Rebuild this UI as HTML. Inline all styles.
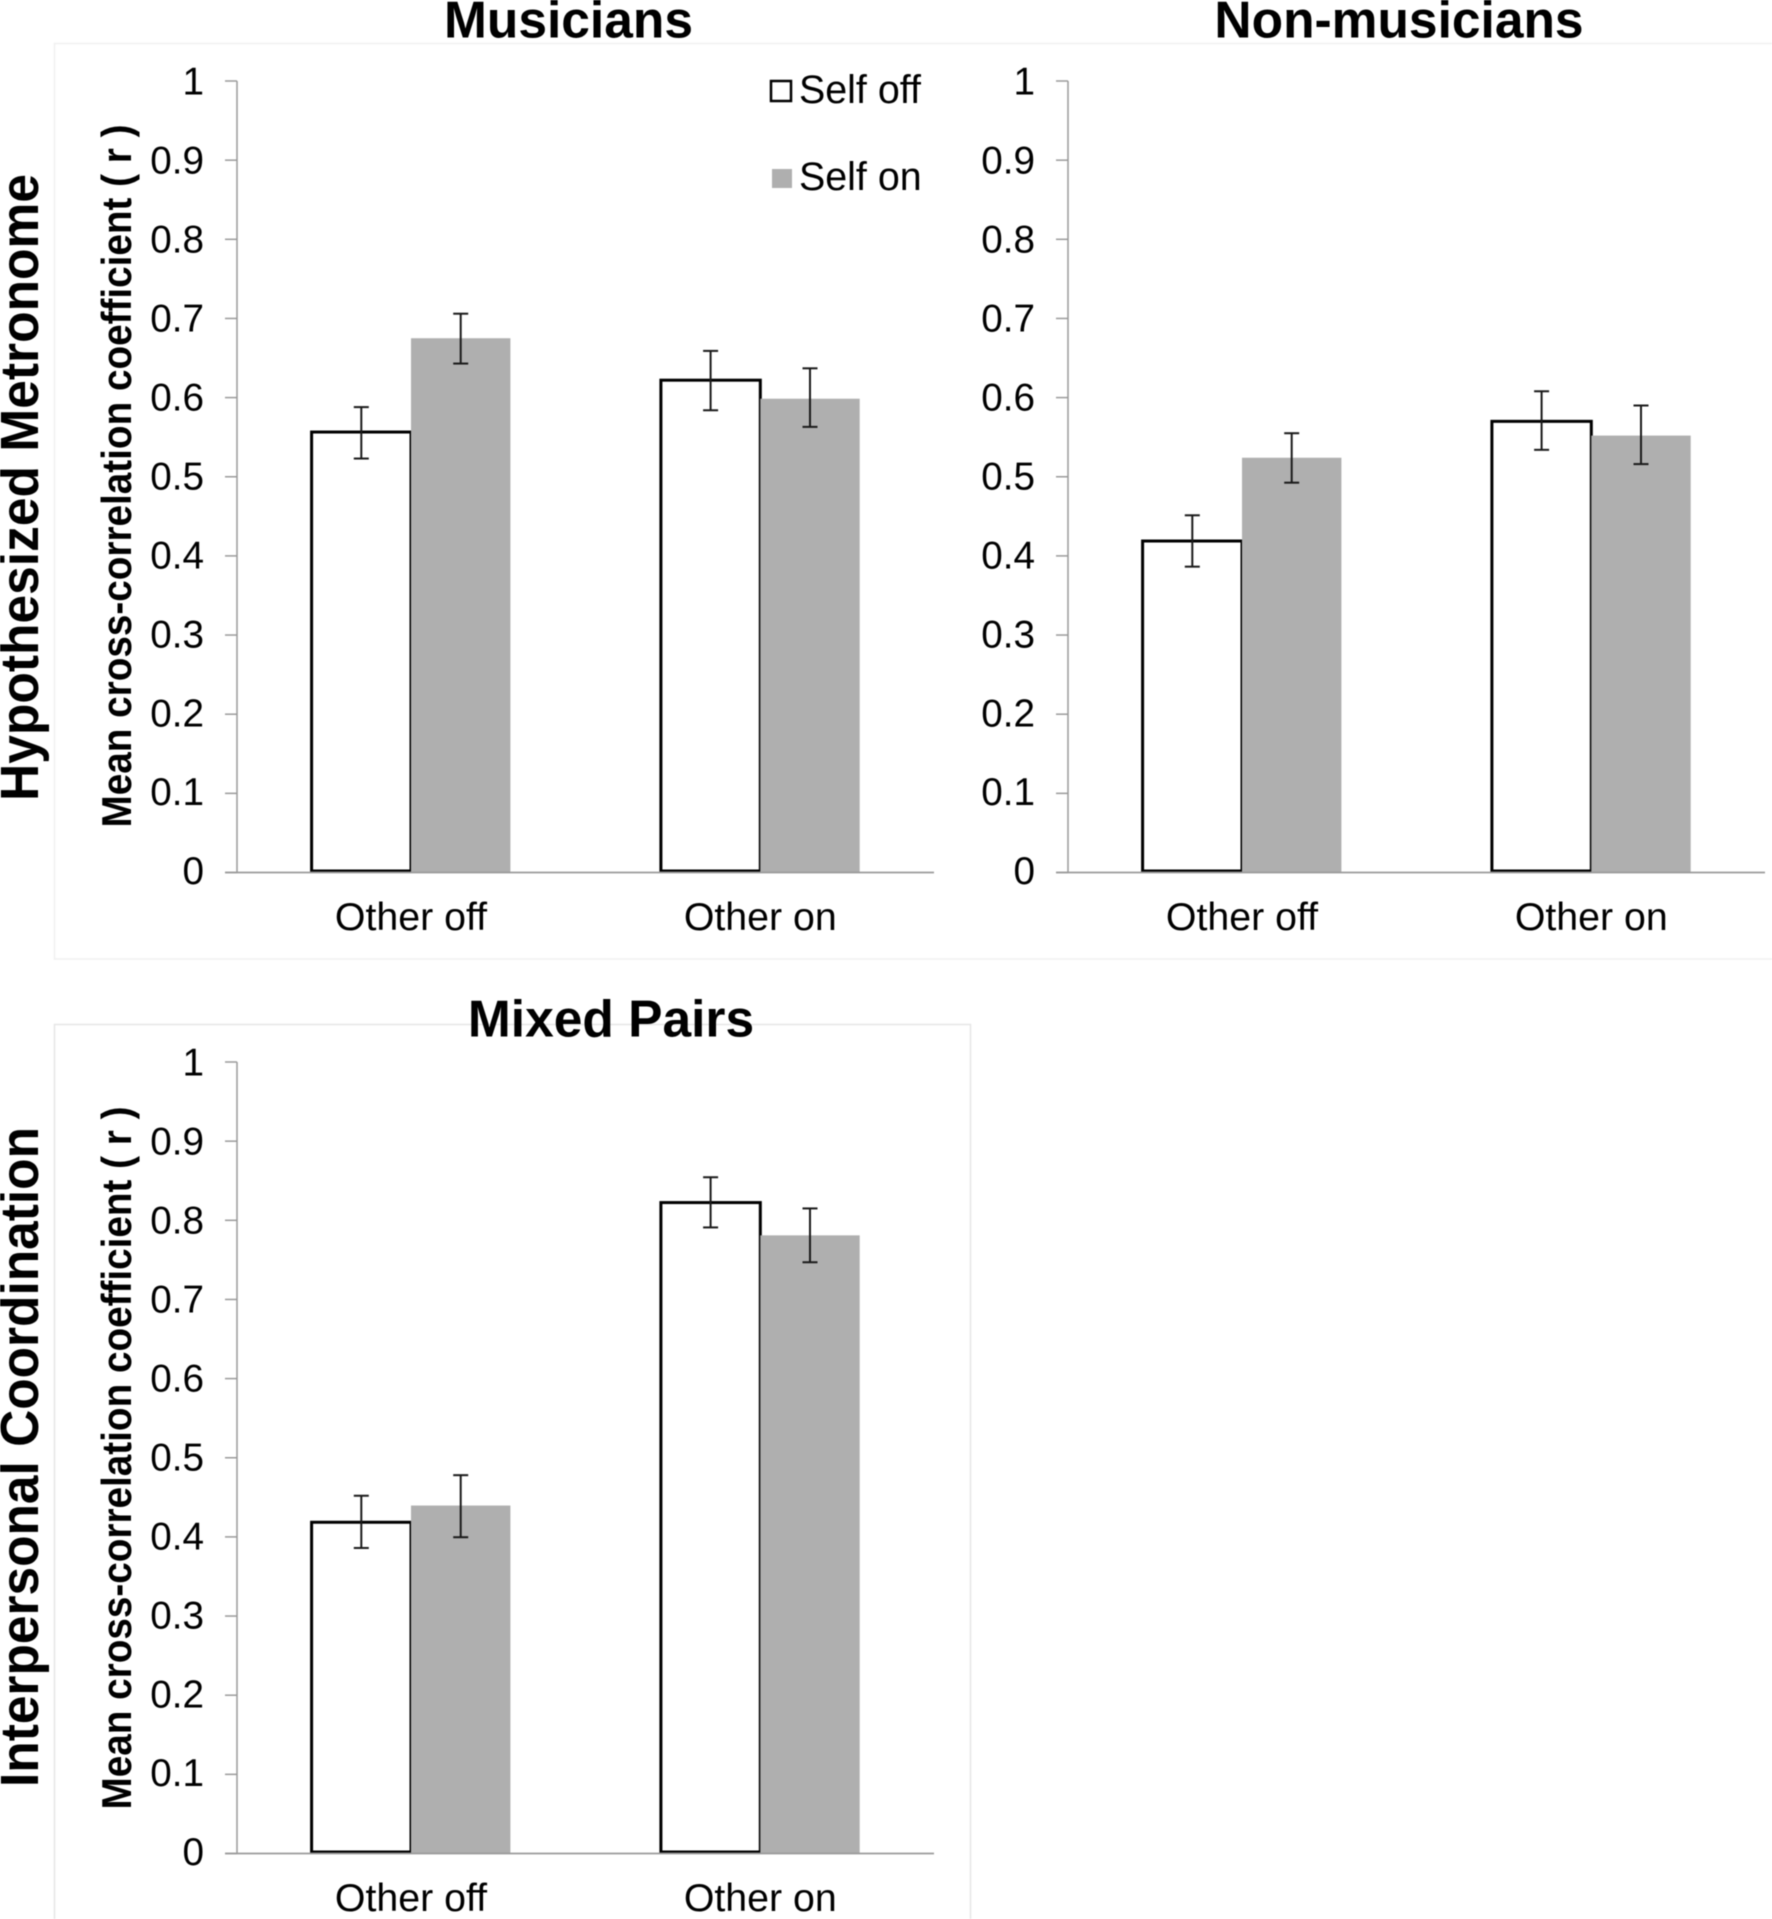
<!DOCTYPE html>
<html lang="en">
<head>
<meta charset="utf-8">
<title>Mean cross-correlation coefficient by group</title>
<style>
  html, body { margin: 0; padding: 0; background: #fff; }
  body { width: 1772px; height: 1919px; overflow: hidden; }
  svg { display: block; filter: blur(0.6px); }
  text { font-family: "Liberation Sans", Arial, sans-serif; fill: #000; }
  .title { font-size: 51.5px; font-weight: bold; text-anchor: middle; }
  .outer { font-size: 52px; font-weight: bold; }
  .ytitle { font-size: 38.6px; font-weight: bold; }
  .tick { font-size: 38.7px; text-anchor: end; }
  .cat { font-size: 39.3px; text-anchor: middle; }
  .legend { font-size: 39.4px; }
</style>
</head>
<body>
<svg id="figure" xmlns="http://www.w3.org/2000/svg" width="1772" height="1919" viewBox="0 0 1772 1919">
  <rect x="0" y="0" width="1772" height="1919" fill="#fff"/>
  <path d="M1772 43.5H54.5V959H1772" fill="none" stroke="#f0f0f0" stroke-width="1.5"/>
  <path d="M54.5 1919V1024.5H970.5V1919" fill="none" stroke="#e6e6e6" stroke-width="1.5"/>

  <text class="title" x="568.5" y="37.7">Musicians</text>
  <text class="title" x="1399" y="37.7">Non-musicians</text>
  <text class="title" x="611" y="1036.7">Mixed Pairs</text>

  <text class="outer" transform="translate(37.8,801) rotate(-90) scale(1,1.03)" textLength="627" lengthAdjust="spacingAndGlyphs">Hypothesized Metronome</text>
  <text class="outer" transform="translate(37.8,1787) rotate(-90) scale(1,1.03)" textLength="660" lengthAdjust="spacingAndGlyphs">Interpersonal Coordination</text>

  <text class="ytitle" transform="translate(131.2,827.5) rotate(-90) scale(1,1.07)" textLength="703" lengthAdjust="spacingAndGlyphs">Mean cross-correlation coefficient ( r )</text>
  <text class="ytitle" transform="translate(131.2,1809.5) rotate(-90) scale(1,1.07)" textLength="703" lengthAdjust="spacingAndGlyphs">Mean cross-correlation coefficient ( r )</text>

  <g id="panels"></g>

  <g>
    <rect x="771" y="81" width="20" height="20" fill="#fff" stroke="#000" stroke-width="2.5"/>
    <text class="legend" x="799" y="103">Self off</text>
    <rect x="772" y="169" width="20" height="19" fill="#afafaf"/>
    <text class="legend" x="799" y="190">Self on</text>
  </g>
</svg>

<script>
const categories = ["Other off", "Other on"];
const tickLabels = ["0", "0.1", "0.2", "0.3", "0.4", "0.5", "0.6", "0.7", "0.8", "0.9", "1"];
const tickValues = [0, 0.1, 0.2, 0.3, 0.4, 0.5, 0.6, 0.7, 0.8, 0.9, 1];

const musiciansSelfOff = [0.5565, 0.622];
const musiciansSelfOn = [0.675, 0.5986];
const musiciansSelfOffHigh = [0.588, 0.659];
const musiciansSelfOffLow = [0.523, 0.584];
const musiciansSelfOnHigh = [0.706, 0.637];
const musiciansSelfOnLow = [0.643, 0.563];

const nonMusiciansSelfOff = [0.4188, 0.570];
const nonMusiciansSelfOn = [0.524, 0.552];
const nonMusiciansSelfOffHigh = [0.4513, 0.608];
const nonMusiciansSelfOffLow = [0.3864, 0.534];
const nonMusiciansSelfOnHigh = [0.555, 0.590];
const nonMusiciansSelfOnLow = [0.4925, 0.516];

const mixedSelfOff = [0.4185, 0.8224];
const mixedSelfOn = [0.4396, 0.781];
const mixedSelfOffHigh = [0.452, 0.8544];
const mixedSelfOffLow = [0.386, 0.791];
const mixedSelfOnHigh = [0.478, 0.815];
const mixedSelfOnLow = [0.3996, 0.747];

const SVG_NS = "http://www.w3.org/2000/svg";
const root = document.getElementById("panels");

function make(parent, tag, attrs, content) {
  const el = document.createElementNS(SVG_NS, tag);
  for (const key in attrs) el.setAttribute(key, attrs[key]);
  if (content !== undefined) el.textContent = content;
  parent.appendChild(el);
  return el;
}

function drawPanel(cfg) {
  const plotLeft = cfg.left;
  const plotRight = cfg.left + 697;
  const yScale = v => cfg.zeroY - v * 791.5;
  const band = 349.3;
  const barWidth = 99.4;
  const center = i => plotLeft + band * (i + 0.5) - 0.65;

  const group = make(root, "g", {});
  
  

  categories.forEach((cat, i) => {
    const x = center(i) - barWidth;
    const y = yScale(cfg.off[i]);
    const bar = make(group, "rect", {
      x: x, y: y, width: barWidth, height: yScale(0) - 1.5 - y,
      fill: "#fff", stroke: "#000", "stroke-width": 3
    });
    
    
  });

  categories.forEach((cat, i) => {
    const x = center(i);
    const y = yScale(cfg.on[i]);
    const bar = make(group, "rect", {
      x: x, y: y, width: barWidth, height: yScale(0) - y, fill: "#afafaf"
    });
    
    
  });

  const axisColor = "#9a9a9a";
  const yAxis = make(group, "line", {
    x1: plotLeft, x2: plotLeft, y1: yScale(1), y2: yScale(0), stroke: axisColor, "stroke-width": 1.5
  });
  
  

  const xAxis = make(group, "line", {
    x1: plotLeft - 12, x2: plotRight, y1: yScale(0), y2: yScale(0), stroke: axisColor, "stroke-width": 1.8
  });
  
  

  tickValues.forEach((v, i) => {
    const mark = make(group, "line", {
      x1: plotLeft - 12, x2: plotLeft, y1: yScale(v), y2: yScale(v), stroke: axisColor, "stroke-width": 1.5
    });
    
    
    const label = make(group, "text", {
      class: "tick", x: plotLeft - 33, y: yScale(v) + 13.5 - 1.8 * (1 - v)
    }, tickLabels[i]);
    
    
  });

  categories.forEach((cat, i) => {
    const label = make(group, "text", {
      class: "cat", x: center(i), y: yScale(0) + 57.5
    }, cat);
    
    
  });

  const drawError = (x, hi, lo) => {
    const stem = make(group, "line", {
      x1: x, x2: x, y1: yScale(hi), y2: yScale(lo), stroke: "#1a1a1a", "stroke-width": 2
    });
    
    
    [hi, lo].forEach(v => {
      const cap = make(group, "line", {
        x1: x - 7.5, x2: x + 7.5, y1: yScale(v), y2: yScale(v), stroke: "#1a1a1a", "stroke-width": 2
      });
      
      
    });
  };

  categories.forEach((cat, i) => {
    drawError(center(i) - barWidth / 2, cfg.offHigh[i], cfg.offLow[i]);
    drawError(center(i) + barWidth / 2, cfg.onHigh[i], cfg.onLow[i]);
  });
}

drawPanel({
  name: "musicians", left: 237, zeroY: 872.5,
  off: musiciansSelfOff, on: musiciansSelfOn,
  offHigh: musiciansSelfOffHigh, offLow: musiciansSelfOffLow,
  onHigh: musiciansSelfOnHigh, onLow: musiciansSelfOnLow
});
drawPanel({
  name: "non-musicians", left: 1068, zeroY: 872.5,
  off: nonMusiciansSelfOff, on: nonMusiciansSelfOn,
  offHigh: nonMusiciansSelfOffHigh, offLow: nonMusiciansSelfOffLow,
  onHigh: nonMusiciansSelfOnHigh, onLow: nonMusiciansSelfOnLow
});
drawPanel({
  name: "mixed-pairs", left: 237, zeroY: 1853.5,
  off: mixedSelfOff, on: mixedSelfOn,
  offHigh: mixedSelfOffHigh, offLow: mixedSelfOffLow,
  onHigh: mixedSelfOnHigh, onLow: mixedSelfOnLow
});
</script>
</body>
</html>
